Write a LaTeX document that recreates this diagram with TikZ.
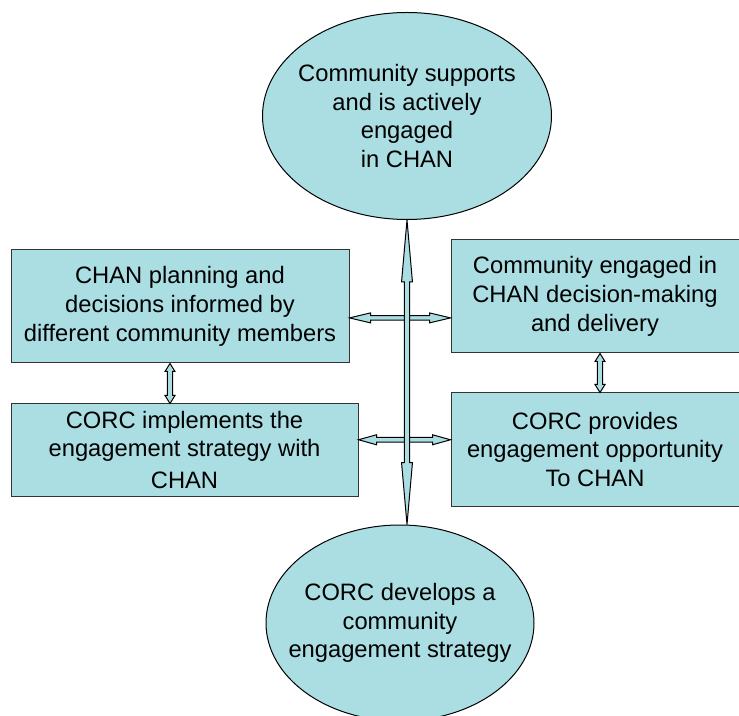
\documentclass[tikz,border=0pt]{standalone}
\usepackage{fontspec}
\setmainfont{Liberation Sans}
\usetikzlibrary{shapes.geometric,calc}
\definecolor{boxfill}{RGB}{170,222,227}
% block arrows with a head at both ends
\newcommand{\vblock}[5]{%
\filldraw[blockarrow] let \p1=(#1), \p2=(#2) in
(\x1,\y1) -- (\x1+#4,\y1-#5) -- (\x1+#3,\y1-#5) -- (\x1+#3,\y2+#5) -- (\x1+#4,\y2+#5) -- (\x1,\y2) -- (\x1-#4,\y2+#5) -- (\x1-#3,\y2+#5) -- (\x1-#3,\y1-#5) -- (\x1-#4,\y1-#5) -- cycle;}
\newcommand{\hblock}[5]{%
\filldraw[blockarrow] let \p1=(#1), \p2=(#2) in
(\x1,\y1) -- (\x1+#5,\y1+#4) -- (\x1+#5,\y1+#3) -- (\x2-#5,\y1+#3) -- (\x2-#5,\y1+#4) -- (\x2,\y1) -- (\x2-#5,\y1-#4) -- (\x2-#5,\y1-#3) -- (\x1+#5,\y1-#3) -- (\x1+#5,\y1-#4) -- cycle;}
\begin{document}
\begin{tikzpicture}[x=0.75pt,y=-0.75pt,
txt/.style={align=center,font=\fontsize{17.8}{21.5}\selectfont,inner sep=0pt},
goal/.style={txt,ellipse,draw=black,fill=boxfill,line width=0.75pt},
box/.style={txt,rectangle,draw=black!80,fill=boxfill,line width=0.75pt},
blockarrow/.style={draw=black,fill=boxfill,line width=0.75pt,line join=miter}
]
%\draw[help lines](0,0)grid[step=50](739,716);
\clip(0,0)rectangle(739,716);
\node[goal,inner xsep=-6pt,minimum width=216.75pt,minimum height=155.25pt]at(407,116)(top){Community supports\\and is actively\\engaged\\ in CHAN};
\node[goal,inner xsep=-16pt,minimum width=201pt,minimum height=147pt]at(400,623)(bot){CORC develops a\\community\\engagement strategy};

\node[box,minimum width=253.5pt,minimum height=84.75pt]at(180,306.5)(lp){CHAN planning and\\decisions informed by\\different community members};
\node[box,minimum width=260.25pt,minimum height=69pt]at(184.5,450)(li){CORC implements the\\engagement strategy with\\[2.5pt]CHAN};
\node[box,minimum width=216pt,minimum height=84.75pt]at(595,296.5)(rp){Community engaged in\\CHAN decision-making\\and delivery};
\node[box,minimum width=216pt,minimum height=84.75pt]at(595,449.5)(rc){CORC provides\\engagement opportunity\\To CHAN};

\coordinate(h1)at($(lp.north east)!0.6!(lp.south east)$);
\coordinate(h2)at($(li.north east)!0.39!(li.south east)$);
\coordinate(v1)at($(lp.south)+(-10,0)$);
\coordinate(v2)at($(rp.south)+(5,0)$);

\hblock{h1}{rp.west}{1.75pt}{3.75pt}{15.75pt}
\hblock{h2}{rc.west}{1.75pt}{3.75pt}{13.5pt}
\vblock{top.south}{bot.north}{1.9pt}{4.1pt}{46.5pt}
\vblock{v1}{li.north}{2pt}{3.75pt}{6pt}
\vblock{v2}{rc.north}{2pt}{3.75pt}{6pt}
\end{tikzpicture}
\end{document}
